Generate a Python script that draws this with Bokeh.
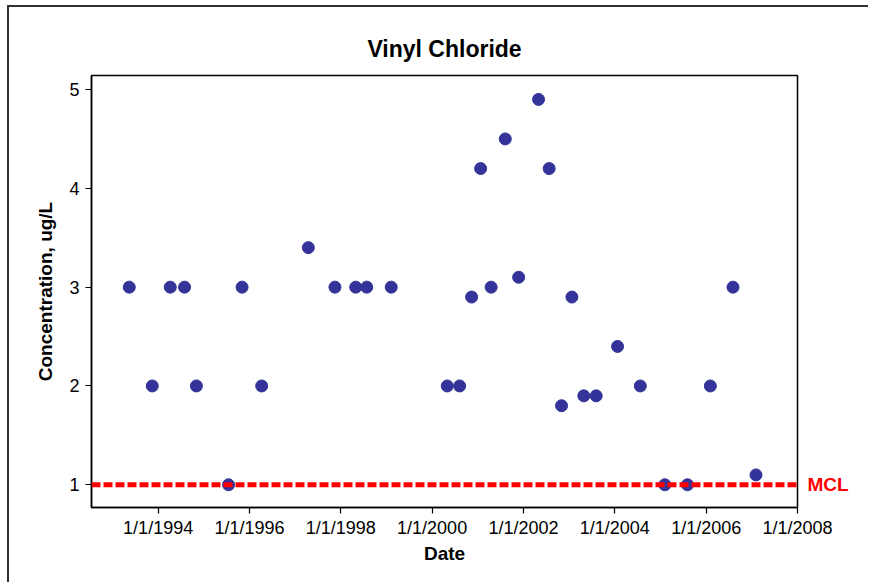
from datetime import datetime

from bokeh.embed import file_html
from bokeh.models import (ColumnDataSource, FixedTicker, LinearAxis,
                          Range1d, Span)
from bokeh.plotting import figure
from bokeh.resources import INLINE

# ---------------- data ----------------
sample_dates = [
    "1993-05-15", "1993-11-15", "1994-04-08", "1994-07-31", "1994-11-03",
    "1995-07-18", "1995-11-03", "1996-04-08", "1997-04-16", "1997-11-15",
    "1998-04-30", "1998-07-27", "1999-02-08", "2000-05-01", "2000-08-08",
    "2000-11-12", "2001-01-23", "2001-04-17", "2001-08-08", "2001-11-23",
    "2002-05-01", "2002-07-25", "2002-11-01", "2003-01-23", "2003-04-28",
    "2003-08-05", "2004-01-23", "2004-07-23", "2005-02-04", "2005-08-04",
    "2006-02-03", "2006-08-03", "2007-02-03",
]
concentration = [
    3.0, 2.0, 3.0, 3.0, 2.0,
    1.0, 3.0, 2.0, 3.4, 3.0,
    3.0, 3.0, 3.0, 2.0, 2.0,
    2.9, 4.2, 3.0, 4.5, 3.1,
    4.9, 4.2, 1.8, 2.9, 1.9,
    1.9, 2.4, 2.0, 1.0, 1.0,
    2.0, 3.0, 1.1,
]
mcl_value = 1.0
mcl_label = "MCL"
x_tick_dates = ["1994-01-01", "1996-01-01", "1998-01-01", "2000-01-01",
                "2002-01-01", "2004-01-01", "2006-01-01", "2008-01-01"]
x_tick_labels = ["1/1/1994", "1/1/1996", "1/1/1998", "1/1/2000",
                 "1/1/2002", "1/1/2004", "1/1/2006", "1/1/2008"]
y_ticks = [1, 2, 3, 4, 5]
x_start, x_end = "1992-07-17", "2008-01-01"
y_start, y_end = 0.77, 5.142

title_text = "Vinyl Chloride"
x_label = "Date"
y_label = "Concentration, ug/L"


def to_ms(d):
    return (datetime.fromisoformat(d) - datetime(1970, 1, 1)).total_seconds() * 1000.0


FONT = "Liberation Sans"

source = ColumnDataSource(dict(
    date=[to_ms(d) for d in sample_dates],
    conc=concentration,
))

p = figure(
    width=861, height=577,
    x_axis_type="datetime",
    x_range=Range1d(to_ms(x_start), to_ms(x_end)),
    y_range=Range1d(y_start, y_end),
    output_backend="svg", toolbar_location=None,
    min_border_left=82, min_border_right=73,
    min_border_top=68, min_border_bottom=77,
    background_fill_color="white", border_fill_color="white",
)
# page border on the top and left edges, as in the reference picture
p.margin = (5, 0, 0, 7)
p.styles = {"border-top": "2px solid #333333",
            "border-left": "2px solid #333333"}

# title
p.title.text = title_text
p.title.align = "center"
p.title.text_font = FONT
p.title.text_font_size = "23px"
p.title.text_font_style = "bold"
p.title.text_color = "black"
p.title.standoff = 27

p.outline_line_color = "black"
p.outline_line_width = 1.5
p.grid.visible = False

# x axis
xa = p.xaxis[0]
tick_ms = [to_ms(d) for d in x_tick_dates]
xa.ticker = FixedTicker(ticks=tick_ms)
xa.major_label_overrides = {t: lab for t, lab in zip(tick_ms, x_tick_labels)}
xa.axis_label = x_label

# y axis
ya = p.yaxis[0]
ya.ticker = FixedTicker(ticks=y_ticks)
ya.axis_label = y_label

for ax in (xa, ya):
    ax.axis_line_color = "black"
    ax.axis_line_width = 1.5
    ax.major_tick_line_color = "black"
    ax.major_tick_line_width = 1.2
    ax.major_tick_out = 6
    ax.major_tick_in = 0
    ax.minor_tick_line_color = None
    ax.major_label_text_font = FONT
    ax.major_label_text_font_size = "18px"
    ax.major_label_text_color = "black"
    ax.axis_label_text_font = FONT
    ax.axis_label_text_font_size = "19px"
    ax.axis_label_text_font_style = "bold"
    ax.axis_label_text_color = "black"

xa.major_label_standoff = 4
xa.axis_label_standoff = 2
ya.major_label_standoff = 6
ya.axis_label_standoff = 10

# MCL line
mcl = Span(location=mcl_value, dimension="width", line_color="#ff0000",
           line_width=5, line_dash="9 3")
p.add_layout(mcl)

# MCL label, drawn as a right-hand axis label next to the line
mcl_axis = LinearAxis(ticker=FixedTicker(ticks=[mcl_value]),
                      major_label_overrides={mcl_value: mcl_label})
mcl_axis.axis_line_color = None
mcl_axis.major_tick_line_color = None
mcl_axis.minor_tick_line_color = None
mcl_axis.major_tick_out = 0
mcl_axis.major_tick_in = 0
mcl_axis.major_label_standoff = 10
mcl_axis.major_label_text_font = FONT
mcl_axis.major_label_text_font_size = "19px"
mcl_axis.major_label_text_font_style = "bold"
mcl_axis.major_label_text_color = "#ff0000"
p.add_layout(mcl_axis, "right")

# data points
p.scatter("date", "conc", source=source, size=12, color="#333399")

open("out.html", "w").write(file_html(p, INLINE))
